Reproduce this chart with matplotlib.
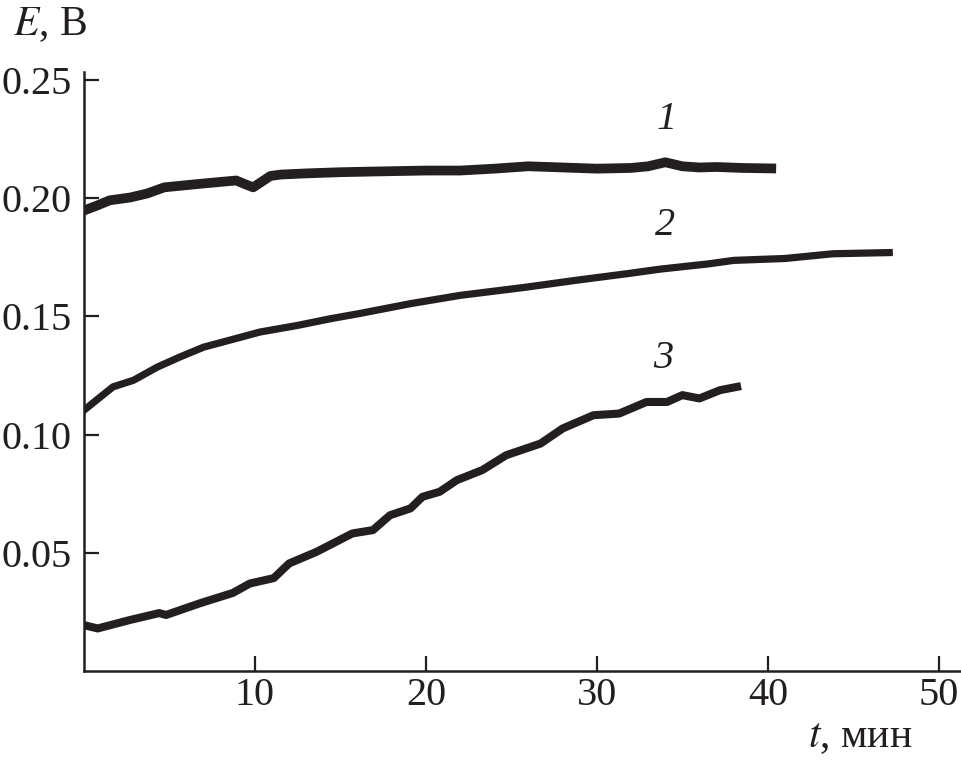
import numpy as np
import matplotlib.pyplot as plt

plt.rcParams['font.family'] = ['Liberation Serif', 'DejaVu Serif']

# Curves: time (min) and potential E (V)
t1 = [0, 0.8, 1.5, 2.7, 3.7, 4.7, 6.8, 8.9, 9.4, 9.9, 10.4, 10.9, 11.5, 13, 15, 17,
      20, 22, 24, 26, 28, 30, 32, 33, 34, 35, 36, 37, 38.5, 40.2]
e1 = [0.1948, 0.1970, 0.1991, 0.2003, 0.2020, 0.2046, 0.2061, 0.2075, 0.2060, 0.2046,
      0.2070, 0.2094, 0.2100, 0.2105, 0.2110, 0.2113, 0.2117, 0.2117, 0.2125, 0.2135,
      0.2130, 0.2125, 0.2128, 0.2135, 0.2152, 0.2135, 0.2130, 0.2132, 0.2128, 0.2126]

t2 = [0, 0.8, 1.7, 2.9, 4.3, 5.6, 7.0, 8.5, 10.3, 12.5, 14.4, 16.1, 19.1, 22.0,
      25.9, 28.8, 31.8, 33.7, 36.5, 38.0, 41.0, 43.8, 47.1]
e2 = [0.1103, 0.1150, 0.1202, 0.1230, 0.1286, 0.1328, 0.1370, 0.1399, 0.1434, 0.1462,
      0.1490, 0.1512, 0.1554, 0.1589, 0.1624, 0.1653, 0.1681, 0.1700, 0.1722, 0.1737,
      0.1745, 0.1765, 0.1770]

t3 = [0, 0.8, 2.7, 4.4, 4.8, 6.8, 8.7, 9.7, 11.1, 12.0, 13.6, 15.7, 16.9, 17.9, 19.1,
      19.8, 20.8, 21.8, 23.3, 24.7, 26.7, 28.0, 29.8, 31.3, 32.9, 34.1, 35.0, 36.0,
      37.2, 38.2]
e3 = [0.0194, 0.0180, 0.0216, 0.0245, 0.0237, 0.0287, 0.0330, 0.0370, 0.0393, 0.0455,
      0.0504, 0.0582, 0.0596, 0.0659, 0.0688, 0.0737, 0.0758, 0.0807, 0.0850, 0.0913,
      0.0962, 0.1026, 0.1082, 0.1089, 0.1138, 0.1138, 0.1167, 0.1153, 0.1188, 0.1202]

curve_labels = ['1', '2', '3']
label_pos = [(34.1, 0.2333), (34.0, 0.1885), (33.9, 0.1323)]

xticks = [10, 20, 30, 40, 50]
yticks = [0.05, 0.10, 0.15, 0.20, 0.25]

col = '#231f20'
fig = plt.figure(figsize=(9.62, 7.6), dpi=100)
ax = fig.add_axes([0.0873, 0.1171, 0.9117, 0.7882])

ax.plot(t1, e1, color=col, lw=7, solid_joinstyle='round')
ax.plot(t2, e2, color=col, lw=5.2, solid_joinstyle='round')
ax.plot(t3, e3, color=col, lw=5.8, solid_joinstyle='round')

for lab, (x, y) in zip(curve_labels, label_pos):
    ax.text(x, y, lab, fontsize=29, style='italic', ha='center', va='center', color=col)

ax.set_xlim(0, 51.3)
ax.set_ylim(0, 0.2534)
ax.set_xticks(xticks)
ax.set_xticklabels([str(v) for v in xticks])
ax.set_yticks(yticks)
ax.set_yticklabels(['{:.2f}'.format(v) for v in yticks])
ax.tick_params(direction='in', length=11, width=1.6, labelsize=29, colors=col)
ax.tick_params(axis='x', pad=4)
ax.tick_params(axis='y', pad=9)
for s in ['top', 'right']:
    ax.spines[s].set_visible(False)
for s in ['left', 'bottom']:
    ax.spines[s].set_linewidth(1.8)
    ax.spines[s].set_color(col)

fig.text(0.0135, 0.954, '$E$, В', fontsize=30, color=col, ha='left', va='baseline',
         math_fontfamily='stix')
fig.text(0.84, 0.017, '$t$, мин', fontsize=30, color=col, ha='left', va='baseline',
         math_fontfamily='stix')

fig.savefig('out.png', dpi=100)
